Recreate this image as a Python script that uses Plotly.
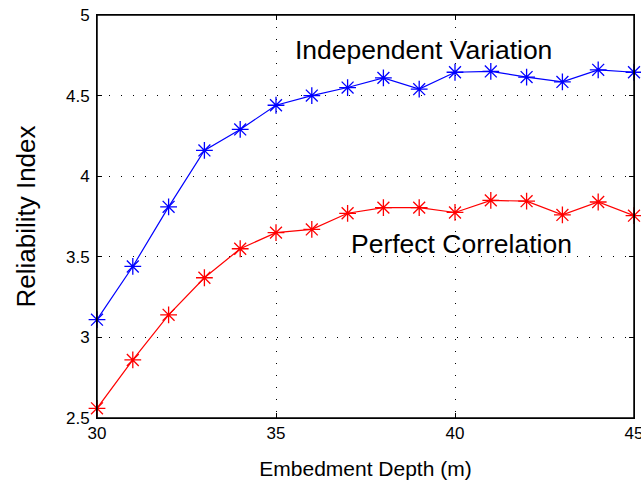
import plotly.graph_objects as go

depth = [30, 31, 32, 33, 34, 35, 36, 37, 38, 39, 40, 41, 42, 43, 44, 45]
independent = [3.11, 3.44, 3.81, 4.16, 4.29, 4.44, 4.50, 4.55, 4.61, 4.54, 4.645, 4.65, 4.615, 4.585, 4.66, 4.645]
perfect = [2.56, 2.86, 3.14, 3.37, 3.55, 3.65, 3.67, 3.77, 3.805, 3.805, 3.775, 3.85, 3.845, 3.76, 3.84, 3.755]
x_ticks = [30, 35, 40, 45]
y_ticks = [2.5, 3, 3.5, 4, 4.5, 5]

font = "Liberation Sans, Arial, Helvetica, sans-serif"

fig = go.Figure()
fig.add_trace(go.Scatter(x=depth, y=independent, mode="lines+markers",
                         line=dict(color="#0000ff", width=1.2),
                         marker=dict(symbol="asterisk-open", size=14, color="#0000ff",
                                     line=dict(color="#0000ff", width=1.3)),
                         cliponaxis=False, showlegend=False))
fig.add_trace(go.Scatter(x=depth, y=perfect, mode="lines+markers",
                         line=dict(color="#ff0000", width=1.2),
                         marker=dict(symbol="asterisk-open", size=14, color="#ff0000",
                                     line=dict(color="#ff0000", width=1.3)),
                         cliponaxis=False, showlegend=False))

fig.add_annotation(x=39.13, y=4.78, text="Independent Variation", showarrow=False,
                   xref="x", yref="y", font=dict(size=26.5, color="black", family=font))
fig.add_annotation(x=40.19, y=3.58, text="Perfect Correlation", showarrow=False,
                   xref="x", yref="y", font=dict(size=26.5, color="black", family=font))

# frame around the plotting area
fig.add_shape(type="rect", xref="paper", yref="paper", x0=0, y0=0, x1=1, y1=1,
              line=dict(color="black", width=1.5), layer="above")

axis_common = dict(showline=True, linecolor="black", linewidth=1, mirror="allticks",
                   ticks="inside", ticklen=5, tickcolor="black", tickwidth=1,
                   showgrid=True, gridcolor="black", gridwidth=1, griddash="1px,11px",
                   zeroline=False, automargin=False,
                   tickfont=dict(size=17, color="black", family=font))

fig.update_xaxes(range=[30, 45], tickvals=x_ticks, ticktext=[str(v) for v in x_ticks],
                 title=dict(text="Embedment Depth (m)", font=dict(size=21, color="black", family=font),
                            standoff=18),
                 **axis_common)
fig.update_yaxes(range=[2.5, 5], tickvals=y_ticks, ticktext=[f"{v:g}" for v in y_ticks],
                 ticklabelstandoff=3,
                 title=dict(text="Reliability Index", font=dict(size=26, color="black", family=font),
                            standoff=22),
                 **axis_common)

fig.update_layout(width=660, height=483, margin=dict(l=97, r=26, t=15, b=65),
                  plot_bgcolor="white", paper_bgcolor="white")

fig.write_html("out.html", config={"displayModeBar": False},
               post_script="document.body.style.margin='0';document.body.style.overflow='hidden';")
